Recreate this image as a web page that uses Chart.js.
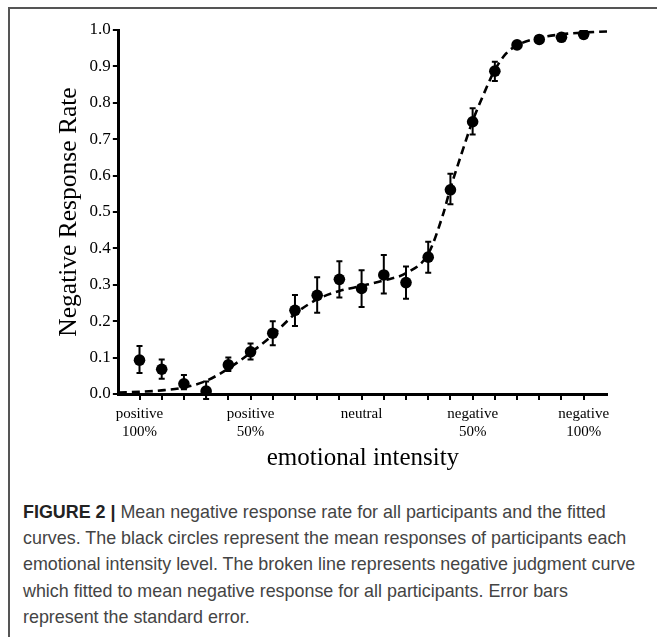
<!DOCTYPE html>
<html>
<head>
<meta charset="utf-8">
<script src="https://cdn.jsdelivr.net/npm/chart.js@4.4.1/dist/chart.umd.min.js"></script>
<style>
  html, body { margin: 0; padding: 0; background: #fff; }
  body { width: 657px; height: 637px; position: relative; overflow: hidden; }
  #frame {
    position: absolute; left: 8px; top: 7px; width: 700px; height: 700px;
    border-top: 2px solid #555; border-left: 2px solid #555;
  }
  #chart { position: absolute; left: 0; top: 0; }
  #caption {
    position: absolute; left: 23px; top: 499px;
    font-family: "Liberation Sans", Arial, sans-serif; font-size: 17.9px;
    line-height: 26.2px; color: #444; white-space: nowrap;
  }
  #caption b { color: #222; }
</style>
</head>
<body>
<div id="frame"></div>
<canvas id="chart" width="657" height="480"></canvas>
<div id="caption">
  <b>FIGURE 2 |</b> Mean negative response rate for all participants and the fitted<br>
  curves. The black circles represent the mean responses of participants each<br>
  emotional intensity level. The broken line represents negative judgment curve<br>
  which fitted to mean negative response for all participants. Error bars<br>
  represent the standard error.
</div>
<script>
// intensity levels 1..21 (positive 100% -> neutral -> negative 100%)
const levels = [1, 2, 3, 4, 5, 6, 7, 8, 9, 10, 11, 12, 13, 14, 15, 16, 17, 18, 19, 20, 21];
const meanRate = [0.093, 0.068, 0.028, 0.008, 0.080, 0.116, 0.167, 0.230, 0.271, 0.315, 0.290,
  0.327, 0.306, 0.376, 0.561, 0.748, 0.887, 0.959, 0.974, 0.980, 0.988];
const errHigh = [0.132, 0.095, 0.052, 0.034, 0.100, 0.139, 0.200, 0.272, 0.321, 0.365, 0.340,
  0.382, 0.350, 0.418, 0.605, 0.785, 0.913, 0.966, 0.980, 0.985, 0.992];
const errLow = [0.058, 0.042, 0.013, -0.014, 0.063, 0.095, 0.134, 0.187, 0.223, 0.265, 0.239,
  0.276, 0.262, 0.333, 0.521, 0.713, 0.860, 0.952, 0.968, 0.975, 0.984];

// fitted negative judgment curve
const fitX = [0.07, 1, 2, 3, 4, 5, 6, 7, 8, 9, 10, 11, 12, 13, 14, 14.65, 15, 15.5, 16, 16.4,
  17, 17.5, 18, 19, 20, 21, 22.05];
const fitY = [0.004, 0.006, 0.010, 0.018, 0.036, 0.070, 0.113, 0.162, 0.220, 0.260, 0.283, 0.297,
  0.312, 0.332, 0.385, 0.490, 0.565, 0.660, 0.750, 0.810, 0.890, 0.935, 0.958, 0.978, 0.988,
  0.993, 0.996];

const tickLabels = { 1: ['positive', '100%'], 6: ['positive', '50%'], 11: ['neutral'],
  16: ['negative', '50%'], 21: ['negative', '100%'] };

const serif = '"Liberation Serif", "Times New Roman", serif';

// error bars with caps
const errorBars = {
  id: 'errorBars',
  afterDatasetsDraw(chart) {
    const { ctx, scales: { x, y } } = chart;
    ctx.save();
    ctx.strokeStyle = '#000';
    ctx.lineWidth = 2;
    levels.forEach((lv, i) => {
      const px = x.getPixelForValue(lv);
      const top = y.getPixelForValue(errHigh[i]);
      const bot = y.getPixelForValue(errLow[i]);
      ctx.beginPath();
      ctx.moveTo(px, top); ctx.lineTo(px, bot);
      ctx.moveTo(px - 3, top); ctx.lineTo(px + 3, top);
      ctx.moveTo(px - 3, bot); ctx.lineTo(px + 3, bot);
      ctx.stroke();
    });
    ctx.restore();
  }
};

new Chart(document.getElementById('chart'), {
  type: 'scatter',
  data: {
    datasets: [
      {
        label: 'mean',
        data: levels.map((lv, i) => ({ x: lv, y: meanRate[i] })),
        pointRadius: 5.8,
        pointBackgroundColor: '#000',
        pointBorderWidth: 0,
        order: 1
      },
      {
        label: 'fit',
        type: 'line',
        data: fitX.map((v, i) => ({ x: v, y: fitY[i] })),
        borderColor: '#000',
        borderWidth: 2.6,
        borderDash: [8, 5],
        pointRadius: 0,
        cubicInterpolationMode: 'monotone',
        fill: false,
        order: 2
      }
    ]
  },
  options: {
    responsive: false,
    animation: false,
    events: [],
    layout: { padding: { left: 54, right: 50, top: 30, bottom: 9 } },
    plugins: { legend: { display: false }, tooltip: { enabled: false } },
    scales: {
      x: {
        type: 'linear',
        min: 0.07,
        max: 22.05,
        afterBuildTicks: axis => { axis.ticks = levels.map(v => ({ value: v })); },
        grid: { drawOnChartArea: false, drawTicks: true, tickLength: 6, color: '#000', lineWidth: 2 },
        border: { display: true, color: '#000', width: 3 },
        ticks: {
          autoSkip: false, maxRotation: 0, padding: 5, color: '#000',
          font: { family: serif, size: 15 },
          callback: v => tickLabels[v] || ''
        },
        title: {
          display: true, text: 'emotional intensity', color: '#000',
          font: { family: serif, size: 25, lineHeight: 1.0 }, padding: { top: 0, bottom: 0 }
        }
      },
      y: {
        min: 0,
        max: 1,
        ticks: {
          stepSize: 0.1, padding: 2, color: '#000',
          font: { family: serif, size: 17 },
          callback: v => v.toFixed(1)
        },
        grid: { drawOnChartArea: false, drawTicks: true, tickLength: 6, color: '#000', lineWidth: 2 },
        border: { display: true, color: '#000', width: 3 },
        title: {
          display: true, text: 'Negative Response Rate', color: '#000',
          font: { family: serif, size: 25.5 }, padding: { top: 0, bottom: 3 }
        }
      }
    }
  },
  plugins: [errorBars]
});
</script>
</body>
</html>
